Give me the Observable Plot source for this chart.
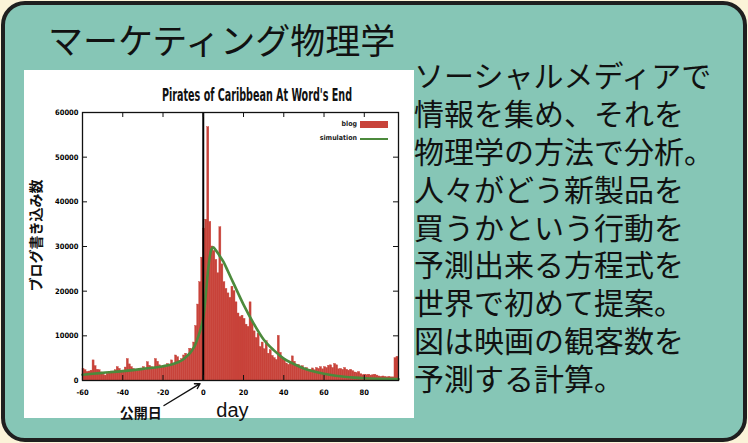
<!DOCTYPE html>
<html><head><meta charset="utf-8">
<script src="https://cdn.jsdelivr.net/npm/d3@7"></script>
<script src="https://cdn.jsdelivr.net/npm/@observablehq/plot@0.6"></script>
<style>
html,body{margin:0;padding:0;width:748px;height:443px;overflow:hidden;background:#fbf3d8;}
#slide{position:absolute;left:1px;top:1px;width:738px;height:433px;border:4px solid #1f1f1f;border-radius:24px;background:#86c6b6;}
#title{position:absolute;left:48px;top:19px;font-family:"Noto Sans CJK JP",sans-serif;font-size:35px;line-height:40px;color:#111;white-space:nowrap;}
#body{position:absolute;left:414px;top:56px;font-family:"Noto Sans CJK JP",sans-serif;font-size:30px;color:#111;white-space:nowrap;}
#body div{height:37.9px;line-height:37.9px;}
#chartbox{position:absolute;left:24px;top:70px;width:390px;height:348px;background:#fff;}
#chartbox svg.plot{position:absolute;left:0;top:0;}
#ctitle{position:absolute;left:138px;top:15px;font-family:"Liberation Sans Narrow","DejaVu Sans Condensed",sans-serif;font-weight:bold;font-size:18px;line-height:20px;color:#111;white-space:nowrap;transform-origin:0 0;}
.leg{position:absolute;font-family:"Liberation Sans Narrow","DejaVu Sans Condensed",sans-serif;font-weight:bold;font-size:7px;line-height:9px;color:#222;text-align:right;width:60px;}
.sw{position:absolute;}
</style></head><body>
<div id="slide"></div>
<div id="title">マーケティング物理学</div>
<div id="chartbox"><div id="ctitle"></div></div>
<div id="body"></div>
<script>
// ---- data ----
const chartTitle = "Pirates of Caribbean At Word's End";
const bodyLines = [
  "ソーシャルメディアで",
  "情報を集め、それを",
  "物理学の方法で分析。",
  "人々がどう新製品を",
  "買うかという行動を",
  "予測出来る方程式を",
  "世界で初めて提案。",
  "図は映画の観客数を",
  "予測する計算。"
];
const firstDay = -60;
const blogCounts = [
  2600,2300,1900,2000,2200,4500,3200,2400,2300,1800, // -60..-51
  1300,1100,1500,1900,2000,1800,2300,3000,2600,2000, // -50..-41
  2200,2900,4800,3600,3000,2600,2200,2100,2500,2600, // -40..-31
  3000,2400,4100,3300,3000,2700,4800,4200,3400,3000, // -30..-21
  3200,2900,3700,3300,4500,3800,5600,5200,4400,4800, // -20..-11
  5600,6000,5400,7100,7000,8500,12200,17000,22000,27500, // -10..-1
  34000,36000,56700,35500,30000,29000,27000,24000,34300,26000, // 0..9
  22000,20500,19500,18500,21000,20000,17500,15000,14200,14500, // 10..19
  13800,12500,12000,17500,13000,11000,9500,10500,7500,8500, // 20..29
  7000,8800,6000,6800,5500,5000,4600,10000,6200,5000, // 30..39
  4600,3800,3500,4000,5400,4200,3300,3500,2800,3200, // 40..49
  2500,2800,2400,2300,2700,2300,2800,2600,3000,2500, // 50..59
  3000,2800,3300,3400,2800,3700,3400,2500,2600,2400, // 60..69
  2800,2400,2200,2400,2100,1800,1700,1900,1400,1200, // 70..79
  1300,1200,1300,1100,1200,1300,1100,900,800,900,    // 80..89
  800,700,800,700,700,5000,5300                      // 90..96
];
const simDays   = [-60,-50,-40,-30,-20,-15,-12,-10,-8,-6,-4,-3,-2,-1,0,1,2,3,4,5,6,8,10,12,15,20,25,30,35,40,45,50,55,60,65,70,75,80,88,97];
const simValues = [1300,1700,2100,2600,3200,3700,4200,4700,5500,6500,8000,9200,10500,12000,14000,18000,23000,27000,29300,29800,29300,28000,26600,24700,21800,17000,12800,9200,6800,4900,3700,2700,2000,1500,1100,850,650,500,380,300];
const xTicks = [-60,-40,-20,0,20,40,60,80];
const yTicks = [0,10000,20000,30000,40000,50000,60000];
const xDomain = [-60, 97];
const yDomain = [0, 60000];
const releaseDay = [0];
const legendItems = ["blog", "simulation"];
const yLabel = "ブログ書き込み数";
const xLabel = "day";
const releaseLabel = "公開日";
const annArrow = [{x1: -19.5, y1: -5600, x2: -1.6, y2: -700}];
const annText = [{x: -31, y: -7300, t: releaseLabel}];
const xLabelPos = [{x: 14.5, y: -6800, t: xLabel}];

// ---- build ----
const blog = blogCounts.map((c, i) => ({day: firstDay + i, count: c}));
const sim = simDays.map((d, i) => ({day: d, value: simValues[i]}));

document.getElementById("body").innerHTML = bodyLines.map(l => `<div>${l}</div>`).join("");

const W = 390, H = 348, mL = 58, mR = 16, mT = 42, mB = 38;
const pw = W - mL - mR, ph = H - mT - mB;
const red = "#c8433a", green = "#4c8a3c";
const tickFont = "Liberation Sans Narrow, DejaVu Sans Condensed, sans-serif";

const plot = Plot.plot({
  width: W, height: H,
  marginLeft: mL, marginRight: mR, marginTop: mT, marginBottom: mB,
  style: {background: "transparent", fontFamily: tickFont, overflow: "visible"},
  x: {domain: xDomain},
  y: {domain: yDomain},
  marks: [
    Plot.rectY(blog, {x: "day", y: "count", interval: 1, fill: red, stroke: red, strokeWidth: 0.4, inset: 0, insetLeft: 0, insetRight: 0}),
    Plot.line(sim, {x: "day", y: "value", stroke: green, strokeWidth: 2.6, curve: "monotone-x"}),
    Plot.ruleX(releaseDay, {stroke: "#000", strokeWidth: 2}),
    Plot.frame({stroke: "#111", strokeWidth: 1.3}),
    Plot.tickY(yTicks, {stroke: "#111", insetRight: pw - 5}),
    Plot.tickY(yTicks, {stroke: "#111", insetLeft: pw - 5}),
    Plot.tickX(xTicks, {stroke: "#111", insetTop: ph - 5}),
    Plot.tickX(xTicks, {stroke: "#111", insetBottom: ph - 5}),
    Plot.axisY(yTicks, {tickSize: 0, tickPadding: 4, fontSize: 7.5, fontWeight: "bold", tickFormat: d => String(d), label: null}),
    Plot.axisX(xTicks, {tickSize: 0, tickPadding: 9, fontSize: 7.5, fontWeight: "bold", tickFormat: d => String(d), label: null}),
    Plot.text([yLabel], {text: d => d, frameAnchor: "left", textAnchor: "middle", dx: -46, dy: -11, rotate: -90, fontSize: 14, fontWeight: "bold", fontFamily: "Noto Sans CJK JP", fill: "#111"}),
    Plot.arrow(annArrow, {x1: "x1", y1: "y1", x2: "x2", y2: "y2", stroke: "#111", strokeWidth: 1.4, headLength: 6}),
    Plot.text(annText, {x: "x", y: "y", text: "t", fontSize: 14, fontWeight: "bold", fontFamily: "Noto Sans CJK JP", fill: "#111"}),
    Plot.text(xLabelPos, {x: "x", y: "y", text: "t", fontSize: 20, fontFamily: "Liberation Sans, Arial, sans-serif", fill: "#111"})
  ]
});
const box = document.getElementById("chartbox");
box.appendChild(plot);

// chart title, condensed to the reference width
const ct = document.getElementById("ctitle");
ct.textContent = chartTitle;
const natural = ct.getBoundingClientRect().width;
ct.style.transform = `scaleX(${190 / natural})`;

// legend (gnuplot style, top-right inside frame)
const legTop = 50;
legendItems.forEach((name, i) => {
  const t = document.createElement("div");
  t.className = "leg";
  t.textContent = name;
  t.style.left = (333 - 60) + "px";
  t.style.top = (legTop + i * 14) + "px";
  box.appendChild(t);
  const s = document.createElement("div");
  s.className = "sw";
  s.style.left = "336px";
  s.style.width = "28px";
  if (i === 0) { s.style.top = (legTop + 1) + "px"; s.style.height = "7px"; s.style.background = red; }
  else { s.style.top = (legTop + 14 + 3.5) + "px"; s.style.height = "2.5px"; s.style.background = green; }
  box.appendChild(s);
});
</script>
</body></html>
